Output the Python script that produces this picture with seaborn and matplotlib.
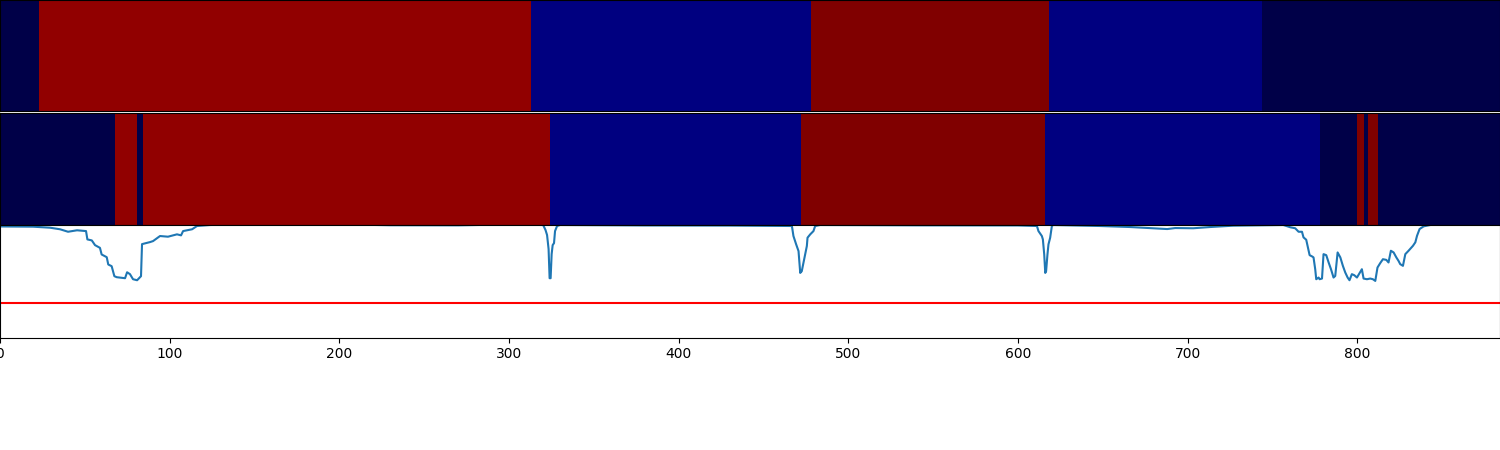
import numpy as np
import pandas as pd
import matplotlib
matplotlib.use("Agg")
import matplotlib.pyplot as plt
from matplotlib.colors import ListedColormap
import seaborn as sns

n_frames = 884

# class colours: 0 navy, 1 blue, 2 maroon, 3 red
class_colors = ["#000048", "#000080", "#800000", "#910000"]

# ground truth segments (start frame, class)
true_starts = [0, 23, 313, 478, 618, 744]
true_labels = [0, 3, 1, 2, 1, 0]

# predicted segments (start frame, class)
pred_starts = [0, 68, 81, 84, 324, 472, 616, 778, 800, 804, 806, 812]
pred_labels = [0, 3, 0, 3, 1, 2, 1, 0, 2, 0, 2, 0]

# confidence curve
conf_x = [0, 19.5, 29.5, 35.4, 40.1, 45.4, 50.7, 51.5, 54.1, 56.0, 58.9, 59.9,
          62.9, 63.8, 65.8, 67.4, 68.8, 73.7, 74.9, 76.6, 78.4, 80.8, 83.1,
          83.7, 88.4, 90.2, 94.3, 99.0, 104.3, 106.7, 107.9, 110.8, 113.2,
          116.1, 123.8, 150, 185, 230, 270, 300,
          320.1, 321.5, 322.4, 323.3, 323.9, 324.5, 325.1, 325.7, 326.5, 327.1,
          328.3, 330.1, 380, 430, 466.7, 467.6, 469.2, 470.6, 471.6, 472.5,
          473.5, 474.5, 475.5, 475.9, 477.5, 479.4, 480.4, 483.3, 540, 600,
          611.1, 612.0, 614.0, 614.6, 615.4, 616.0, 616.5, 617.3, 617.9, 618.9,
          619.9, 620.7, 648.4, 666.1, 687.9, 692.6, 703.2, 713.2, 726.8, 742.7,
          756.3, 760.4, 763.3, 765.3, 767.3, 768.2, 769.8, 770.6, 771.8, 773.2,
          774.1, 775.1, 775.7, 777.1, 777.7, 779.1, 780.0, 781.6, 783.0, 784.4,
          785.9, 786.9, 788.3, 789.9, 791.4, 792.8, 794.2, 795.3, 796.7, 798.1,
          799.7, 801.2, 802.6, 803.6, 805.6, 807.5, 809.1, 810.5, 811.8, 813.4,
          815.0, 817.0, 818.3, 819.7, 821.3, 822.9, 824.2, 825.2, 826.8, 828.2,
          830.1, 832.7, 834.1, 835.1, 836.6, 839.0, 842.9, 850.6, 883]
conf_y = [0.987, 0.985, 0.976, 0.962, 0.940, 0.953, 0.946, 0.872, 0.863, 0.821,
          0.797, 0.738, 0.714, 0.649, 0.634, 0.545, 0.536, 0.527, 0.580, 0.563,
          0.518, 0.509, 0.545, 0.830, 0.848, 0.857, 0.902, 0.896, 0.917, 0.908,
          0.946, 0.955, 0.962, 0.991, 1.0, 1.01, 1.01, 0.998, 0.997, 1.005,
          1.0, 0.955, 0.911, 0.786, 0.527, 0.527, 0.741, 0.821, 0.839, 0.946,
          0.991, 1.0, 0.996, 0.995, 0.991, 0.902, 0.828, 0.768, 0.574, 0.589,
          0.663, 0.738, 0.813, 0.887, 0.917, 0.946, 0.991, 1.0, 0.997, 0.996,
          0.991, 0.946, 0.902, 0.872, 0.738, 0.574, 0.589, 0.738, 0.828, 0.887,
          0.991, 1.0, 0.991, 0.982, 0.964, 0.973, 0.971, 0.982, 0.994, 0.997,
          1.0, 0.980, 0.971, 0.940, 0.940, 0.890, 0.869, 0.815, 0.732, 0.721,
          0.712, 0.607, 0.518, 0.533, 0.518, 0.524, 0.741, 0.732, 0.667, 0.607,
          0.533, 0.547, 0.756, 0.712, 0.637, 0.578, 0.533, 0.509, 0.563, 0.554,
          0.533, 0.571, 0.607, 0.524, 0.518, 0.524, 0.518, 0.503, 0.622, 0.661,
          0.696, 0.690, 0.667, 0.771, 0.756, 0.712, 0.681, 0.652, 0.637, 0.741,
          0.771, 0.815, 0.846, 0.904, 0.964, 0.988, 1.0, 1.01, 1.01]

threshold = 0.31


def frame_row(starts, labels):
    lengths = np.diff(starts + [n_frames])
    return pd.DataFrame([np.repeat(labels, lengths)])


cmap = ListedColormap(class_colors)

fig = plt.figure(figsize=(15, 4.5), dpi=100)
ax_true = fig.add_axes([0, 1 - 111 / 450, 1, 111 / 450])
ax_pred = fig.add_axes([0, 0.5, 1, 112 / 450])
ax_conf = fig.add_axes([0, 0.25, 1, 0.25])

for ax, starts, labels in [(ax_true, true_starts, true_labels),
                           (ax_pred, pred_starts, pred_labels)]:
    sns.heatmap(frame_row(starts, labels), ax=ax, cmap=cmap, vmin=-0.5, vmax=3.5,
                cbar=False, xticklabels=False, yticklabels=False)
    ax.set_xlim(0, n_frames)
    for sp in ax.spines.values():
        sp.set_visible(True)
        sp.set_color("black")
        sp.set_linewidth(0.8)

sns.lineplot(x=conf_x, y=conf_y, ax=ax_conf, color="#1f77b4", linewidth=1.5)
ax_conf.axhline(threshold, color="red", linewidth=1.5)
ax_conf.set_xlim(0, n_frames)
ax_conf.set_ylim(0, 1)
ax_conf.set_xticks(range(0, 900, 100))
ax_conf.set_yticks([])

fig.savefig("out.png", dpi=100)
